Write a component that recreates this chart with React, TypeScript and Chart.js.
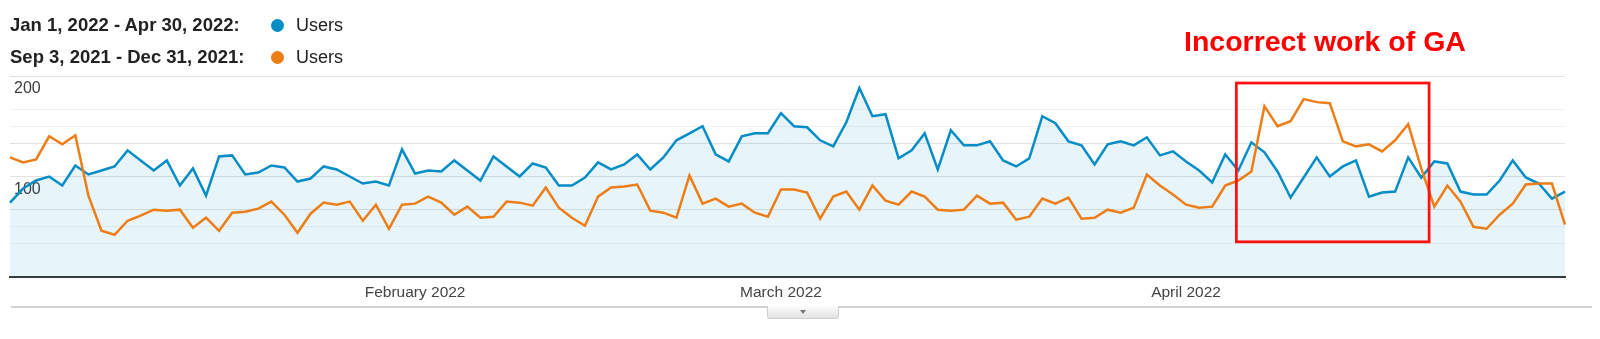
import React, { useEffect, useRef } from 'react';
import { Chart, registerables } from 'chart.js';

Chart.register(...registerables);

const rangeCurrent = 'Jan 1, 2022 - Apr 30, 2022:';
const rangePrevious = 'Sep 3, 2021 - Dec 31, 2021:';
const metricName = 'Users';
const annotationText = 'Incorrect work of GA';

const startYear = 2022;
const dayCount = 120;
const monthNames = ['January', 'February', 'March', 'April', 'May', 'June', 'July', 'August', 'September', 'October', 'November', 'December'];
const shortMonths = ['Jan', 'Feb', 'Mar', 'Apr', 'May', 'Jun', 'Jul', 'Aug', 'Sep', 'Oct', 'Nov', 'Dec'];

const usersCurrent = [
  74, 88, 96, 100, 91, 111, 102, 106, 110, 126,
  116, 106, 116, 91, 108, 81, 120, 121, 102, 104,
  111, 109, 95, 98, 110, 107, 100, 93, 95, 91,
  127, 103, 106, 105, 116, 106, 96, 120, 110, 100,
  113, 109, 91, 91, 99, 114, 107, 112, 122, 107,
  119, 136, 143, 150, 122, 115, 140, 143, 143, 163,
  150, 149, 136, 130, 154, 188, 160, 162, 118, 126,
  143, 107, 146, 131, 131, 135, 116, 110, 118, 160,
  153, 135, 131, 112, 132, 135, 131, 139, 121, 125,
  115, 106, 94, 122, 106, 134, 124, 105, 79, 99,
  119, 100, 110, 116, 80, 84, 85, 119, 99, 115,
  113, 85, 82, 82, 96, 116, 99, 93, 78, 85,
];

const usersPrevious = [
  119, 114, 117, 140, 132, 141, 81, 46, 42, 56,
  61, 67, 66, 67, 49, 59, 46, 64, 65, 68,
  75, 62, 44, 63, 74, 72, 75, 56, 72, 48,
  72, 73, 80, 74, 62, 70, 59, 60, 75, 74,
  71, 89, 69, 59, 51, 80, 89, 90, 92, 66,
  64, 59, 101, 73, 78, 70, 73, 64, 60, 87,
  87, 84, 58, 80, 85, 67, 91, 76, 72, 85,
  80, 67, 66, 67, 81, 73, 74, 57, 60, 78,
  73, 79, 58, 59, 67, 64, 69, 102, 91, 82,
  72, 69, 70, 91, 96, 105, 170, 150, 155, 177,
  174, 173, 135, 130, 132, 125, 136, 152, 108, 70,
  91, 75, 50, 48, 62, 73, 92, 93, 93, 52,
];

const yMax = 200;
const yGridTicks = [0, 33.33, 50, 66.67, 100, 133.33, 150, 166.67, 200];
const yStrongTicks = [66.67, 100, 133.33, 200];
const yLabelTicks = [100, 200];

// highlighted region (in data units: day index and users)
const highlightFromIndex = 93.85;
const highlightToIndex = 108.6;
const highlightFromValue = 35;
const highlightToValue = 193;

const dayDates: Date[] = [];
for (let i = 0; i < dayCount; i++) dayDates.push(new Date(startYear, 0, 1 + i));
const dayLabels = dayDates.map((d) => `${shortMonths[d.getMonth()]} ${d.getDate()}, ${d.getFullYear()}`);

const BLUE = '#058dc7';
const ORANGE = '#ed7e17';
const FONT = 'Arial, "Liberation Sans", Helvetica, sans-serif';

const highlightPlugin = {
  id: 'highlightBox',
  afterDraw(chart: any) {
    const { ctx, scales } = chart;
    const x = scales.x;
    const y = scales.y;
    const l = x.getPixelForValue(highlightFromIndex);
    const r = x.getPixelForValue(highlightToIndex);
    const t = y.getPixelForValue(highlightToValue);
    const b = y.getPixelForValue(highlightFromValue);
    ctx.save();
    ctx.strokeStyle = '#ff1010';
    ctx.lineWidth = 2.75;
    ctx.strokeRect(l, t, r - l, b - t);
    ctx.restore();
  },
};

export default function App() {
  const canvasRef = useRef<HTMLCanvasElement | null>(null);

  useEffect(() => {
    if (!canvasRef.current) return;
    const chart = new Chart(canvasRef.current, {
      type: 'line',
      data: {
        labels: dayLabels,
        datasets: [
          {
            label: rangePrevious + ' ' + metricName,
            data: usersPrevious,
            borderColor: ORANGE,
            borderWidth: 2.5,
            pointRadius: 0,
            tension: 0,
            fill: false,
            order: 0,
          },
          {
            label: rangeCurrent + ' ' + metricName,
            data: usersCurrent,
            borderColor: BLUE,
            backgroundColor: 'rgba(5,141,199,0.095)',
            borderWidth: 2.5,
            pointRadius: 0,
            tension: 0,
            fill: 'origin',
            order: 1,
          },
        ],
      },
      options: {
        responsive: false,
        animation: false,
        devicePixelRatio: 1,
        layout: { padding: { left: 10, right: 35, top: 76, bottom: 32 } },
        plugins: { legend: { display: false }, tooltip: { enabled: false } },
        scales: {
          x: {
            type: 'category',
            offset: false,
            grid: { display: false, drawTicks: false },
            border: { display: true, color: '#3a3a3a', width: 2 },
            ticks: {
              autoSkip: false,
              maxRotation: 0,
              padding: 6,
              color: '#444',
              font: { family: FONT, size: 15.5 },
              callback: (_v: any, i: number) => {
                const d = dayDates[i];
                if (i > 0 && d.getDate() === 1) return `${monthNames[d.getMonth()]} ${d.getFullYear()}`;
                return '';
              },
            },
            afterFit: (s: any) => {
              s.height = 30;
            },
          },
          y: {
            position: 'left',
            min: 0,
            max: yMax,
            grid: {
              drawTicks: false,
              color: (c: any) => {
                const v = c.tick ? c.tick.value : 0;
                if (v === 0) return 'rgba(0,0,0,0)';
                return yStrongTicks.includes(v) ? '#e2e2e2' : '#f1f1f1';
              },
              lineWidth: 1,
            },
            border: { display: false },
            ticks: { display: false },
            afterBuildTicks: (s: any) => {
              s.ticks = yGridTicks.map((v) => ({ value: v }));
            },
            afterFit: (s: any) => {
              s.width = 0;
            },
          },
          yl: {
            position: 'left',
            min: 0,
            max: yMax,
            z: 1,
            grid: { display: false, drawTicks: false },
            border: { display: false },
            ticks: {
              mirror: true,
              padding: 4,
              labelOffset: 13,
              color: '#3c3c3c',
              font: { family: FONT, size: 16 },
              textStrokeColor: '#ffffff',
              textStrokeWidth: 3,
              callback: (v: any) => String(v),
            },
            afterBuildTicks: (s: any) => {
              s.ticks = yLabelTicks.map((v) => ({ value: v }));
            },
            afterFit: (s: any) => {
              s.width = 0;
            },
          },
        },
      },
      plugins: [highlightPlugin],
    } as any);
    return () => chart.destroy();
  }, []);

  const headerText: React.CSSProperties = {
    position: 'absolute',
    left: 10,
    fontFamily: FONT,
    fontWeight: 'bold',
    fontSize: 18.5,
    lineHeight: '20px',
    color: '#222',
    whiteSpace: 'nowrap',
  };
  const usersText: React.CSSProperties = {
    position: 'absolute',
    left: 296,
    fontFamily: FONT,
    fontSize: 18,
    lineHeight: '20px',
    color: '#222',
    whiteSpace: 'nowrap',
  };
  const dot = (color: string, top: number): React.CSSProperties => ({
    position: 'absolute',
    left: 270.5,
    top,
    width: 13,
    height: 13,
    borderRadius: '50%',
    background: color,
  });

  return (
    <div style={{ position: 'absolute', left: 0, top: 0, width: 1600, height: 339, background: '#fff', overflow: 'hidden' }}>
      <canvas ref={canvasRef} width={1600} height={339} style={{ position: 'absolute', left: 0, top: 0 }} />
      <div style={{ ...headerText, top: 15 }}>{rangeCurrent}</div>
      <div style={dot(BLUE, 19)} />
      <div style={{ ...usersText, top: 15 }}>{metricName}</div>
      <div style={{ ...headerText, top: 47 }}>{rangePrevious}</div>
      <div style={dot(ORANGE, 51)} />
      <div style={{ ...usersText, top: 47 }}>{metricName}</div>
      <div
        style={{
          position: 'absolute',
          left: 1184,
          top: 25,
          fontFamily: FONT,
          fontWeight: 'bold',
          fontSize: 28.5,
          lineHeight: '32px',
          color: '#ff0000',
          whiteSpace: 'nowrap',
        }}
      >
        {annotationText}
      </div>
      <div style={{ position: 'absolute', left: 11, top: 306, width: 1581, height: 2, background: '#d3d3d3' }} />
      <div
        style={{
          position: 'absolute',
          left: 767,
          top: 306,
          width: 70,
          height: 12,
          background: 'linear-gradient(#fbfbfb, #e3e3e3)',
          border: '1px solid #cfcfcf',
          borderTop: 'none',
          borderRadius: '0 0 3px 3px',
        }}
      >
        <div
          style={{
            position: 'absolute',
            left: 31.5,
            top: 4,
            width: 0,
            height: 0,
            borderLeft: '3.5px solid transparent',
            borderRight: '3.5px solid transparent',
            borderTop: '4px solid #777',
          }}
        />
      </div>
    </div>
  );
}
